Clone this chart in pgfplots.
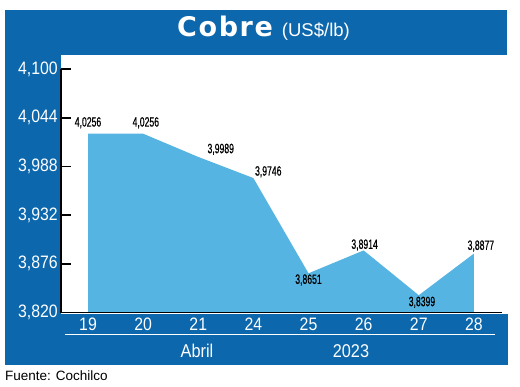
\documentclass[border=0pt]{standalone}
\usepackage{fontspec}
\setmainfont{Liberation Sans}
\newfontfamily\condfont[FakeStretch=0.88]{Liberation Sans}
\newfontfamily\labfont[FakeStretch=0.64,FakeBold=0.6]{Liberation Sans}
\newfontfamily\titlefont[LetterSpace=6]{DejaVu Sans}
\usepackage{pgfplots}
\pgfplotsset{compat=1.18}
\usepackage{pgfplotstable}
\definecolor{frameblue}{RGB}{12,103,172}
\definecolor{areablue}{RGB}{86,180,227}

\pgfplotstableread{
x y lab xs ys
0 4.0256 4,0256 0 11
1 4.0256 4,0256 2.7 11
2 3.9989 3,9989 22.5 7.6
3 3.9746 3,9746 14.9 6.3
4 3.8651 3,8651 0 -6.7
5 3.8914 3,8914 1 5.4
6 3.8399 3,8399 3.2 -7.1
7 3.8877 3,8877 7 7.6
}\datatable

\begin{document}
\begin{tikzpicture}
\begin{scope}[x=1pt,y=-1pt]
\path[use as bounding box] (0,0) rectangle (520,386);
\fill[frameblue] (5,9.5) rectangle (507,54.5);
\fill[frameblue] (5,54) rectangle (60.5,365);
\fill[frameblue] (5,313.5) rectangle (508,365);
\node[text=white, anchor=base, inner sep=0pt] at (263.5,36) {{\titlefont\bfseries\fontsize{27}{29}\selectfont Cobre}\hspace{9pt}{\fontsize{18.5}{20}\selectfont (US\$/lb)}};
\draw[white, line width=1pt] (65,334) -- (495,334);
\node[text=white, font=\condfont\fontsize{18.5}{20}\selectfont] at (197,351) {Abril};
\node[text=white, font=\condfont\fontsize{18.5}{20}\selectfont] at (351,351) {2023};
\node[anchor=base west, font=\fontsize{13.5}{15}\selectfont, inner sep=0pt] at (5,380) {Fuente: Cochilco};
\end{scope}
\begin{axis}[
  at={(61pt,-312.5pt)}, anchor=south west,
  scale only axis, width=441pt, height=243.5pt,
  xmin=-0.49, xmax=7.51, ymin=3.82, ymax=4.10,
  axis lines=left, axis line style={-, line width=1.8pt, black},
  axis on top,
  xtick={0,...,7}, xticklabels={19,20,21,24,25,26,27,28},
  ytick={3.82,3.876,3.932,3.988,4.044,4.1},
  yticklabels={{3,820},{3,876},{3,932},{3,988},{4,044},{4,100}},
  tick align=inside, major tick length=10pt,
  x tick style={draw=none}, y tick style={black, line width=1.8pt},
  ticklabel style={text=white, font=\condfont\fontsize{18}{19}\selectfont},
  y tick label style={inner sep=1pt, xshift=-2pt},
  x tick label style={inner sep=0pt, yshift=-5pt},
]
\addplot[fill=areablue, draw=none] table[x=x,y=y]{\datatable} \closedcycle;
\addplot[draw=none, mark=none, nodes near coords, point meta=explicit symbolic,
  visualization depends on={\thisrow{xs} \as \xs},
  visualization depends on={\thisrow{ys} \as \ys},
  every node near coord/.append style={anchor=center, xshift=\xs pt, yshift=\ys pt,
    font=\labfont\fontsize{13.5}{14}\selectfont, text=black, inner sep=0pt}]
  table[x=x,y=y,meta=lab]{\datatable};
\draw[black, line width=1.8pt] (rel axis cs:1,0) -- ++(0,5pt);
\end{axis}
\end{tikzpicture}
\end{document}
